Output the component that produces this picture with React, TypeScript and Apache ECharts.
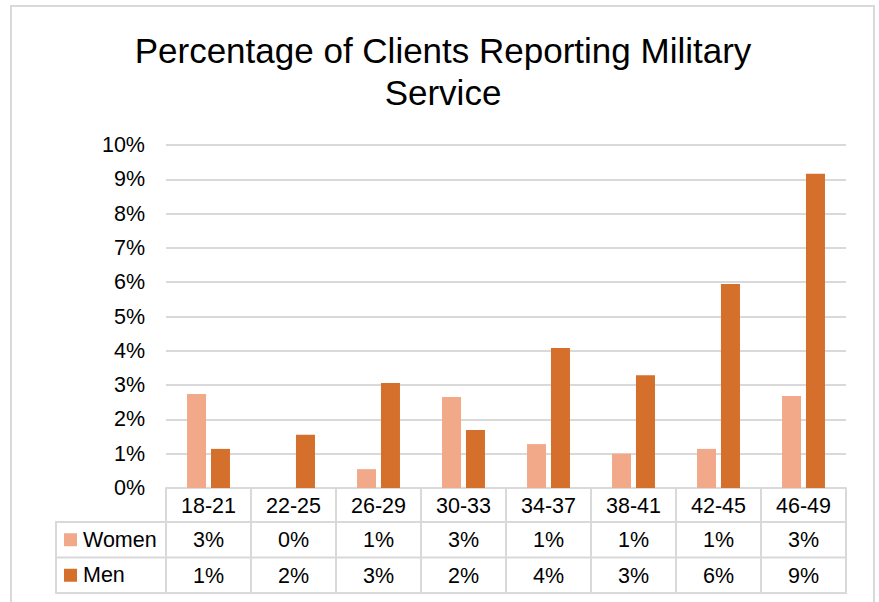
import React, { useEffect, useRef } from "react";
import * as echarts from "echarts";

const categories = ["18-21", "22-25", "26-29", "30-33", "34-37", "38-41", "42-45", "46-49"];
const seriesNames = ["Women", "Men"];
const women = [2.74, 0, 0.55, 2.65, 1.28, 1.0, 1.14, 2.68];
const men = [1.14, 1.55, 3.06, 1.69, 4.08, 3.29, 5.95, 9.16];
const seriesColors = ["#F1A98A", "#D4702B"];
const titleLines = ["Percentage of Clients Reporting Military", "Service"];

const W = 879;
const H = 602;
const GRID_L = 166;
const GRID_R = 846;
const GRID_T = 145;
const GRID_B = 488;
const ROW_H = 35.5;
const TABLE_L = 56;
const LINE = "#D9D9D9";
const FONT = "'Liberation Sans', Arial, sans-serif";

export default function App() {
  const ref = useRef<HTMLDivElement>(null);
  useEffect(() => {
    if (!ref.current) return;
    const chart = echarts.init(ref.current, undefined, { renderer: "svg" });
    const colW = (GRID_R - GRID_L) / categories.length;
    const rowsY = [GRID_B, GRID_B + 34, GRID_B + 34 + ROW_H, GRID_B + 34 + 2 * ROW_H];
    const graphics: any[] = [];
    // outer border
    graphics.push({
      type: "rect",
      shape: { x: 11, y: 6, width: 863, height: 640 },
      style: { fill: "none", stroke: LINE, lineWidth: 2 },
      silent: true,
    });
    // title
    titleLines.forEach((t, i) => {
      graphics.push({
        type: "text",
        x: 443,
        y: 50 + i * 42,
        style: {
          text: t,
          fontSize: 35,
          fontFamily: FONT,
          fill: "#000",
          textAlign: "center",
          textVerticalAlign: "middle",
        },
      });
    });
    // table vertical lines
    for (let i = 0; i <= categories.length; i++) {
      graphics.push({
        type: "line",
        shape: { x1: GRID_L + i * colW, y1: rowsY[0], x2: GRID_L + i * colW, y2: rowsY[3] },
        style: { stroke: LINE, lineWidth: 2 },
      });
    }
    graphics.push({
      type: "line",
      shape: { x1: TABLE_L, y1: rowsY[1], x2: TABLE_L, y2: rowsY[3] },
      style: { stroke: LINE, lineWidth: 2 },
    });
    // table horizontal lines
    for (let r = 1; r <= 3; r++) {
      graphics.push({
        type: "line",
        shape: { x1: TABLE_L - 1, y1: rowsY[r], x2: GRID_R + 1, y2: rowsY[r] },
        style: { stroke: LINE, lineWidth: 2 },
      });
    }
    // row headers
    seriesNames.forEach((name, i) => {
      const cy = (rowsY[i + 1] + rowsY[i + 2]) / 2;
      graphics.push({
        type: "rect",
        shape: { x: 64, y: cy - 6.5, width: 13, height: 13 },
        style: { fill: seriesColors[i] },
      });
      graphics.push({
        type: "text",
        x: 83,
        y: cy,
        style: {
          text: name,
          fontSize: 21.5,
          fontFamily: FONT,
          fill: "#000",
          textAlign: "left",
          textVerticalAlign: "middle",
        },
      });
    });

    const fmt = (v: number) => `${Math.round(v)}%`;
    const tableAxis = (data: string[], offset: number) => ({
      type: "category",
      data,
      position: "bottom",
      offset,
      axisLine: { show: false },
      axisTick: { show: false },
      axisLabel: { fontSize: 21.5, fontFamily: FONT, color: "#000", margin: 7, interval: 0 },
    });

    chart.setOption({
      animation: false,
      grid: { left: GRID_L, right: W - GRID_R, top: GRID_T, bottom: H - GRID_B },
      graphic: graphics,
      xAxis: [
        {
          type: "category",
          data: categories,
          axisLine: { lineStyle: { color: LINE, width: 2 } },
          axisTick: { show: false },
          axisLabel: { fontSize: 21.5, fontFamily: FONT, color: "#000", margin: 7, interval: 0 },
        },
        tableAxis(women.map(fmt), 34),
        tableAxis(men.map(fmt), 34 + ROW_H),
      ],
      yAxis: {
        type: "value",
        min: 0,
        max: 10,
        interval: 1,
        axisLine: { show: false },
        axisTick: { show: false },
        splitLine: { lineStyle: { color: LINE, width: 2 } },
        axisLabel: {
          formatter: (v: number) => `${v}%`,
          fontSize: 21.5,
          fontFamily: FONT,
          color: "#000",
          margin: 21,
        },
      },
      series: [
        {
          name: seriesNames[0],
          type: "bar",
          data: women,
          barWidth: 19,
          barGap: "26%",
          itemStyle: { color: seriesColors[0] },
        },
        {
          name: seriesNames[1],
          type: "bar",
          data: men,
          barWidth: 19,
          barGap: "26%",
          itemStyle: { color: seriesColors[1] },
        },
      ],
    });
    return () => chart.dispose();
  }, []);
  return (
    <div
      ref={ref}
      style={{ position: "fixed", left: 0, top: 0, width: W, height: H, background: "#fff" }}
    />
  );
}
